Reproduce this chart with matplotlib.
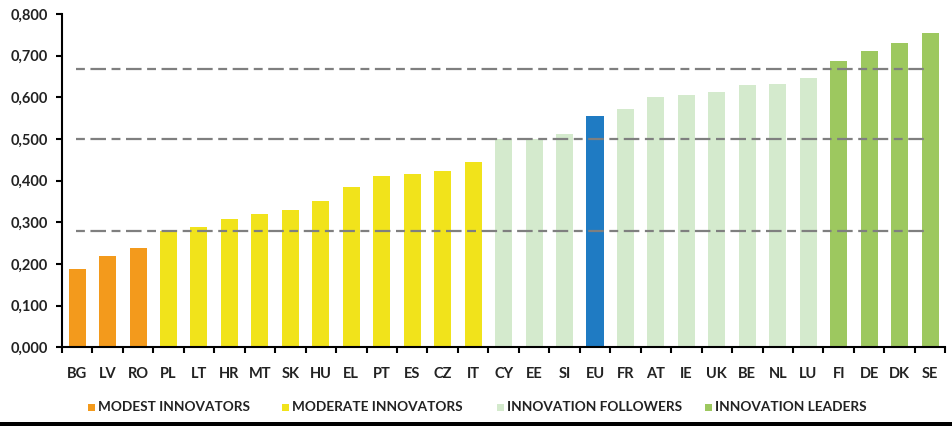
import numpy as np
import matplotlib
matplotlib.use("Agg")
import matplotlib.pyplot as plt
from matplotlib.patches import Rectangle

# country codes, sorted by index score
countries = ["BG", "LV", "RO", "PL", "LT", "HR", "MT", "SK", "HU", "EL", "PT", "ES", "CZ", "IT",
             "CY", "EE", "SI", "EU", "FR", "AT", "IE", "UK", "BE", "NL", "LU", "FI", "DE", "DK", "SE"]
scores = [0.187, 0.219, 0.237, 0.280, 0.288, 0.307, 0.319, 0.329, 0.351, 0.384, 0.412, 0.416, 0.424, 0.444,
          0.501, 0.501, 0.513, 0.556, 0.573, 0.601, 0.605, 0.613, 0.629, 0.631, 0.647, 0.687, 0.711, 0.731, 0.754]
groups = ["modest"] * 3 + ["moderate"] * 11 + ["follower"] * 3 + ["eu"] + ["follower"] * 7 + ["leader"] * 4

group_colors = {
    "modest": "#F39A1C",
    "moderate": "#F1E31B",
    "follower": "#D4EACD",
    "eu": "#1F7BC3",
    "leader": "#9DC85F",
}
legend_names = ["MODEST INNOVATORS", "MODERATE INNOVATORS", "INNOVATION FOLLOWERS", "INNOVATION LEADERS"]
legend_keys = ["modest", "moderate", "follower", "leader"]
legend_x = [88, 282, 497, 705]  # left edge of each legend square, pixels

# group thresholds (dashed lines)
thresholds = [0.278, 0.500, 0.667]

plt.rcParams['font.family'] = ['Lato', 'DejaVu Sans']

W, H = 952, 426
fig = plt.figure(figsize=(W / 100, H / 100), dpi=100)
ax = fig.add_axes([0.065, 0.185, 0.928, 0.782])

x = np.arange(len(countries))
ax.bar(x, scores, width=0.56, color=[group_colors[g] for g in groups], zorder=2)

for t in thresholds:
    ax.plot([-0.05, 27.9], [t, t], color="#7f7f7f", lw=1.6,
            dashes=(4, 2.5, 7, 2.5), zorder=3)

ax.set_xlim(-0.5, 28.5)
ax.set_ylim(0, 0.8)
ax.set_yticks(np.arange(0, 0.81, 0.1))
ax.set_yticklabels([f"{v:.3f}".replace(".", ",") for v in np.arange(0, 0.81, 0.1)])
ax.set_xticks(x)
ax.set_xticklabels(countries)
ax.set_xticks(np.arange(-0.5, 28.6, 1), minor=True)
ax.tick_params(axis="x", which="major", length=0, pad=14, labelsize=10.5)
ax.tick_params(axis="x", which="minor", length=4, width=1.5, direction="out")
ax.tick_params(axis="y", length=4, width=1.5, labelsize=10.5, pad=6)
for lab in ax.get_xticklabels() + ax.get_yticklabels():
    lab.set_color("#222222")
    lab.set_fontweight("bold")

ax.spines["top"].set_visible(False)
ax.spines["right"].set_visible(False)
ax.spines["left"].set_linewidth(1.5)
ax.spines["bottom"].set_linewidth(1.5)

# legend drawn by hand: small square + label
ly = 407
sq = 7
for key, name, lx in zip(legend_keys, legend_names, legend_x):
    fig.patches.append(Rectangle((lx / W, (H - ly - sq / 2) / H), sq / W, sq / H,
                                 transform=fig.transFigure, facecolor=group_colors[key],
                                 edgecolor="none"))
    fig.text((lx + sq + 3) / W, (H - ly) / H, name, ha="left", va="center",
             fontsize=9.8, fontweight="bold", color="#222222")

# black band at bottom edge
fig.patches.append(Rectangle((0, 0), 1, 4 / H, transform=fig.transFigure,
                             facecolor="black", edgecolor="none"))

fig.savefig("out.png", dpi=100)
